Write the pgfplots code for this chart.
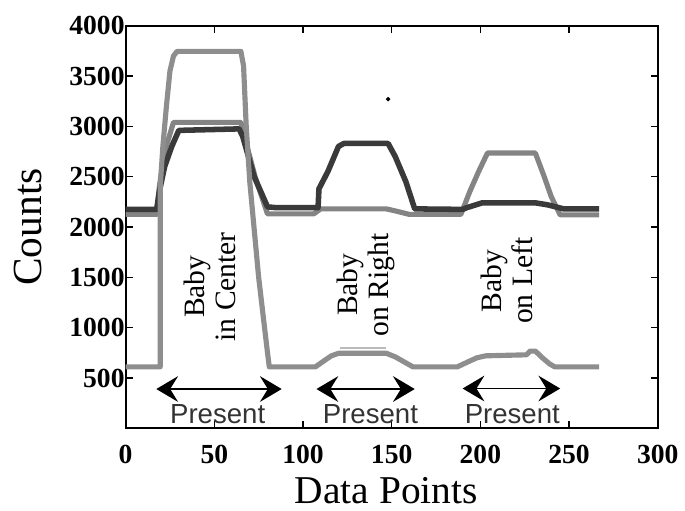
\documentclass[border=0pt]{standalone}
\usepackage{pgfplots}
\pgfplotsset{compat=1.18}
\usepackage{fontspec}
\setmainfont{Liberation Serif}
\setsansfont{Liberation Sans}
\usetikzlibrary{arrows.meta}

\definecolor{darkline}{RGB}{58,58,58}
\definecolor{grayA}{RGB}{132,132,132}
\definecolor{grayB}{RGB}{142,142,142}

\tikzset{bigarrow/.style={{Stealth[length=11bp,width=13bp,inset=4bp]}-{Stealth[length=11bp,width=13bp,inset=4bp]}, line width=0.8bp}}

\begin{document}
\begin{tikzpicture}
\begin{axis}[
    scale only axis,
    width=269bp, height=203.5bp,
    xmin=0, xmax=300, ymin=0, ymax=4000,
    xtick={0,50,...,300},
    ytick={500,1000,...,4000},
    /pgf/number format/assume math mode=true,
    /pgf/number format/1000 sep={},
    ticklabel style={font=\bfseries\fontsize{14}{14}\selectfont},
    xticklabel style={yshift=-5bp},
    yticklabel style={xshift=3bp},
    scaled ticks=false,
    major tick length=3.5bp,
    tick style={black, line width=0.6bp},
    axis line style={line width=0.9bp},
    xlabel={Data Points},
    ylabel={Counts},
    xlabel style={font=\fontsize{20}{20}\selectfont, at={(axis description cs:0.49,-0.155)}, anchor=center},
    ylabel style={font=\fontsize{21}{21}\selectfont, at={(axis description cs:-0.184,0.5)}, anchor=center},
    clip=false,
]
% mid gray trace
\addplot[grayA, line width=2.6bp, line join=round] coordinates {
 (0,2125) (17.5,2125) (19,2400) (22,2750) (27,3040) (65,3040) (67,2900)
 (73,2500) (80,2130) (106,2130) (110,2180) (147,2180) (152,2160) (160,2125)
 (189,2125) (194,2350) (199,2550) (204,2735) (231,2735) (236,2500)
 (240,2300) (245,2120) (267,2120)};
% dark trace
\addplot[darkline, line width=2.8bp, line join=round] coordinates {
 (0,2175) (17.5,2175) (19,2350) (22,2600) (26,2800) (30,2960) (64,2975)
 (66,2900) (72.5,2500) (80,2200) (85,2192) (108.5,2192) (109,2380)
 (114,2550) (120,2800) (123,2830) (148,2830) (152,2700) (158,2450)
 (163,2180) (190,2175) (192,2190) (201,2240) (231,2240) (238,2220)
 (247,2180) (267,2180)};
% light gray trace
\addplot[grayB, line width=2.6bp, line join=round] coordinates {
 (0,610) (19.5,610) (19.5,2400) (21,2800) (23,3200) (25,3550) (27,3700)
 (29,3745) (65,3745) (66.5,3600) (68,3000) (70,2450) (75,1500) (80,750)
 (81,610) (107,610) (111,660) (116,720) (120,745) (147,745) (152,710)
 (157,660) (162,610) (187,610) (193,660) (198,700) (203,720) (226,730)
 (228,767) (231,767) (235,700) (239,640) (242,610) (267,610)};
\addplot[grayB!60, line width=0.8bp] coordinates {(121,800) (147,800)};
\addplot[black, only marks, mark=*, mark size=0.9bp] coordinates {(148,3270)};

\node[rotate=90, align=center, font=\fontsize{15}{16}\selectfont] at (axis cs:47.4,1406) {Baby\\in Center};
\node[rotate=90, align=center, font=\fontsize{15}{16}\selectfont] at (axis cs:135.5,1426) {Baby\\on Right};
\node[rotate=90, align=center, font=\fontsize{15}{16}\selectfont] at (axis cs:215,1465) {Baby\\on Left};

\draw[bigarrow] (axis cs:17.3,390) -- (axis cs:88,390);
\draw[bigarrow] (axis cs:107.6,390) -- (axis cs:163,390);
\draw[bigarrow] (axis cs:190,395) -- (axis cs:245,395);

\node[font=\sffamily\fontsize{14}{14}\selectfont, text=black!80] at (axis cs:51.9,145) {Present};
\node[font=\sffamily\fontsize{14}{14}\selectfont, text=black!80] at (axis cs:138,145) {Present};
\node[font=\sffamily\fontsize{14}{14}\selectfont, text=black!80] at (axis cs:218,145) {Present};
\end{axis}
\path (current axis.south west) ++(-63.5bp,-40bp) coordinate (bbA);
\path (current axis.south west) ++(279bp,216.5bp) coordinate (bbB);
\path[use as bounding box] (bbA) rectangle (bbB);
\end{tikzpicture}
\end{document}
